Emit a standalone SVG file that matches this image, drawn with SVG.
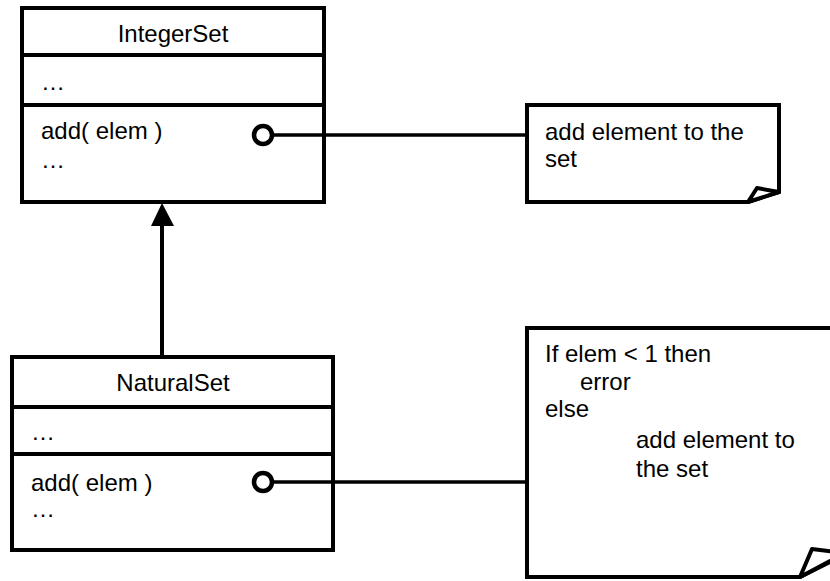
<svg xmlns="http://www.w3.org/2000/svg" width="830" height="581" viewBox="0 0 830 581">
<style>
text{font-family:"Liberation Sans",Arial,sans-serif;font-size:24px;fill:#000}
.box{fill:#fff;stroke:#000;stroke-width:4}
.ln{stroke:#000;stroke-width:4;fill:none}
.c{stroke:#000;stroke-width:3.5;fill:none}
.pin{fill:#fff;stroke:#000;stroke-width:4.5}
</style>
<rect width="830" height="581" fill="#fff"/>
<g id="IntegerSet">
<rect class="box" x="22" y="8" width="302" height="194"/>
<line class="ln" x1="22" y1="55" x2="324" y2="55"/>
<line class="ln" x1="22" y1="105" x2="324" y2="105"/>
<text x="173" y="42" text-anchor="middle">IntegerSet</text>
<text x="41" y="90">…</text>
<text x="41" y="139">add( elem )</text>
<text x="41" y="168">…</text>
</g>
<g id="NaturalSet">
<rect class="box" x="12" y="357" width="321" height="193"/>
<line class="ln" x1="12" y1="407" x2="333" y2="407"/>
<line class="ln" x1="12" y1="454" x2="333" y2="454"/>
<text x="173" y="391" text-anchor="middle">NaturalSet</text>
<text x="31" y="440">…</text>
<text x="31" y="491">add( elem )</text>
<text x="31" y="517">…</text>
</g>
<g id="note1">
<path class="box" d="M527 105 H779 V192 L748 202 H527 Z"/>
<path class="box" d="M748 202 L757 188 L779 192 Z" stroke-linejoin="round"/>
<text x="545" y="140">add element to the</text>
<text x="545" y="167">set</text>
</g>
<g id="note2">
<path class="box" d="M527 328 H850 V552 L800 577 H527 Z"/>
<path class="box" d="M800 577 L812 549 L845 553 Z" stroke-linejoin="round"/>
<text x="545" y="362">If elem &lt; 1 then</text>
<text x="580" y="390">error</text>
<text x="545" y="417">else</text>
<text x="636" y="448">add element to</text>
<text x="636" y="477">the set</text>
</g>
<g id="connectors">
<line class="ln" x1="162" y1="224" x2="162" y2="357"/>
<polygon points="162,203 151,226 174,226" fill="#000"/>
<line class="c" x1="272" y1="135" x2="527" y2="135"/>
<circle class="pin" cx="263" cy="135" r="9"/>
<line class="c" x1="272" y1="482" x2="527" y2="482"/>
<circle class="pin" cx="263" cy="482" r="9"/>
</g>
</svg>
